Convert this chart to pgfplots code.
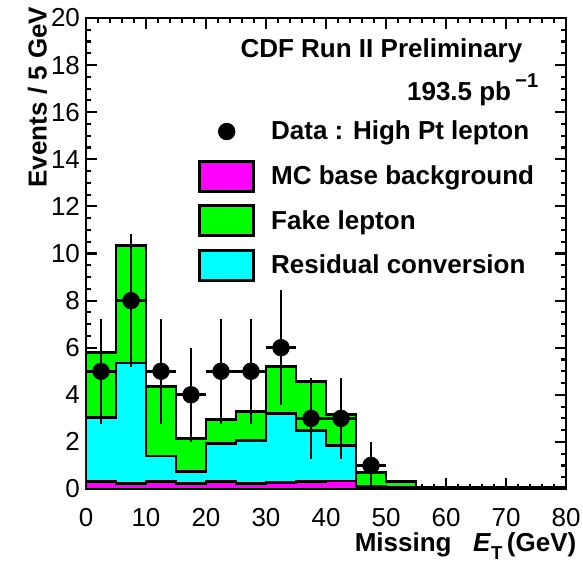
\documentclass[border=0pt]{standalone}
\usepackage{fontspec}
\setmainfont{Liberation Sans}
\usepackage{pgfplots}
\pgfplotsset{compat=1.18}
\usetikzlibrary{calc}

\definecolor{rootgreen}{RGB}{0,255,0}
\definecolor{rootcyan}{RGB}{0,255,255}
\definecolor{rootmagenta}{RGB}{255,0,255}

\newcommand{\labfont}{\bfseries\fontsize{19.5}{22}\selectfont}

% Stacked background estimates per 5 GeV bin (cumulative heights, left bin edges)
\pgfplotstableread{
x   total  conv   mc
0   5.80   3.05   0.32
5   10.35  5.35   0.22
10  4.35   1.40   0.30
15  2.15   0.75   0.24
20  2.95   1.95   0.30
25  3.30   2.05   0.24
30  5.20   3.20   0.28
35  4.55   2.50   0.32
40  3.15   1.85   0.34
45  0.70   0.10   0.05
50  0.30   0.05   0.04
55  0.06   0.02   0.02
60  0.05   0.02   0.02
65  0.05   0.02   0.02
70  0.05   0.02   0.02
75  0.05   0.02   0.02
80  0.05   0.02   0.02
}\bkgtable

% Observed events with statistical errors
\pgfplotstableread{
x     y   ex   ey
2.5   5   2.5  2.236
7.5   8   2.5  2.828
12.5  5   2.5  2.236
17.5  4   2.5  2.0
22.5  5   2.5  2.236
27.5  5   2.5  2.236
32.5  6   2.5  2.449
37.5  3   2.5  1.732
42.5  3   2.5  1.732
47.5  1   2.5  1.0
}\datatable

\begin{document}
\begin{tikzpicture}
\begin{axis}[
  name=main,
  scale only axis,
  width=360pt, height=353.25pt,
  xmin=0, xmax=80, ymin=0, ymax=20,
  xtick={0,10,...,80}, ytick={0,2,...,20},
  minor x tick num=4, minor y tick num=3,
  xtick pos=both, ytick pos=both,
  tick align=inside,
  major tick length=8pt, minor tick length=4pt,
  every tick/.style={black, line width=1.6pt},
  axis line style={line width=2.2pt},
  tick label style={font=\fontsize{19.5}{22}\selectfont},
  /pgf/number format/assume math mode=true,
  xticklabel style={yshift=-11pt},
  yticklabel style={xshift=-1pt},
  legend cell align=left,
  legend style={draw=none, fill=none, at={(rel axis cs:0.2333,0.8068)},
    anchor=north west, inner sep=0pt, row sep=0pt, column sep=12pt,
    font=\labfont, nodes={inner sep=0pt}},
]
\addlegendimage{legend image code/.code={
  \fill[black] (20.25pt,0pt) circle (6.3pt);
  \path (0pt,-16.5pt) (40.5pt,16.5pt);}}
\addlegendentry{Data : High Pt lepton}
\addlegendimage{legend image code/.code={
  \draw[fill=rootmagenta, line width=2.2pt] (0pt,-11.25pt) rectangle (40.5pt,11.25pt);
  \path (0pt,-16.5pt) (40.5pt,16.5pt);}}
\addlegendentry{MC base background}
\addlegendimage{legend image code/.code={
  \draw[fill=rootgreen, line width=2.2pt] (0pt,-11.25pt) rectangle (40.5pt,11.25pt);
  \path (0pt,-16.5pt) (40.5pt,16.5pt);}}
\addlegendentry{Fake lepton}
\addlegendimage{legend image code/.code={
  \draw[fill=rootcyan, line width=2.2pt] (0pt,-11.25pt) rectangle (40.5pt,11.25pt);
  \path (0pt,-16.5pt) (40.5pt,16.5pt);}}
\addlegendentry{Residual conversion}

% stacked histograms, drawn from the full sum downwards
\addplot[const plot, fill=rootgreen, draw=black, line width=2.2pt, forget plot]
  table[x=x, y=total] {\bkgtable} \closedcycle;
\addplot[const plot, fill=rootcyan, draw=black, line width=2.2pt, forget plot]
  table[x=x, y=conv] {\bkgtable} \closedcycle;
\addplot[const plot, fill=rootmagenta, draw=black, line width=2.2pt, forget plot]
  table[x=x, y=mc] {\bkgtable} \closedcycle;

% data points
\addplot[only marks, mark=*, mark size=6.3pt, black, forget plot,
  error bars/.cd, x dir=both, x explicit, y dir=both, y explicit,
  error mark=none, error bar style={line width=2.2pt, black}]
  table[x=x, y=y, x error=ex, y error=ey] {\datatable};

\node[anchor=base east, font=\labfont] at ($(rel axis cs:1,1)+(-29.25pt,-30pt)$)
  {CDF Run II Preliminary};
\node[anchor=base east, font=\labfont] at ($(rel axis cs:1,1)+(-17.25pt,-62.25pt)$)
  {193.5 pb\,\raisebox{0.5em}{\fontsize{15}{15}\selectfont −1}};
\end{axis}

\node[anchor=base east, font=\labfont] at ($(main.south east)+(11.25pt,-47pt)$)
  {Missing\ \ \ \textit{E}\raisebox{-0.3em}{\fontsize{14}{14}\selectfont T}\,(GeV)};
\node[rotate=90, anchor=base east, font=\labfont] at ($(main.north west)+(-29.5pt,12pt)$)
  {Events / 5 GeV};

\pgfresetboundingbox
\path ($(main.south west)+(-64.5pt,-57.75pt)$) rectangle ($(main.north east)+(12.75pt,13.5pt)$);
\end{tikzpicture}
\end{document}
